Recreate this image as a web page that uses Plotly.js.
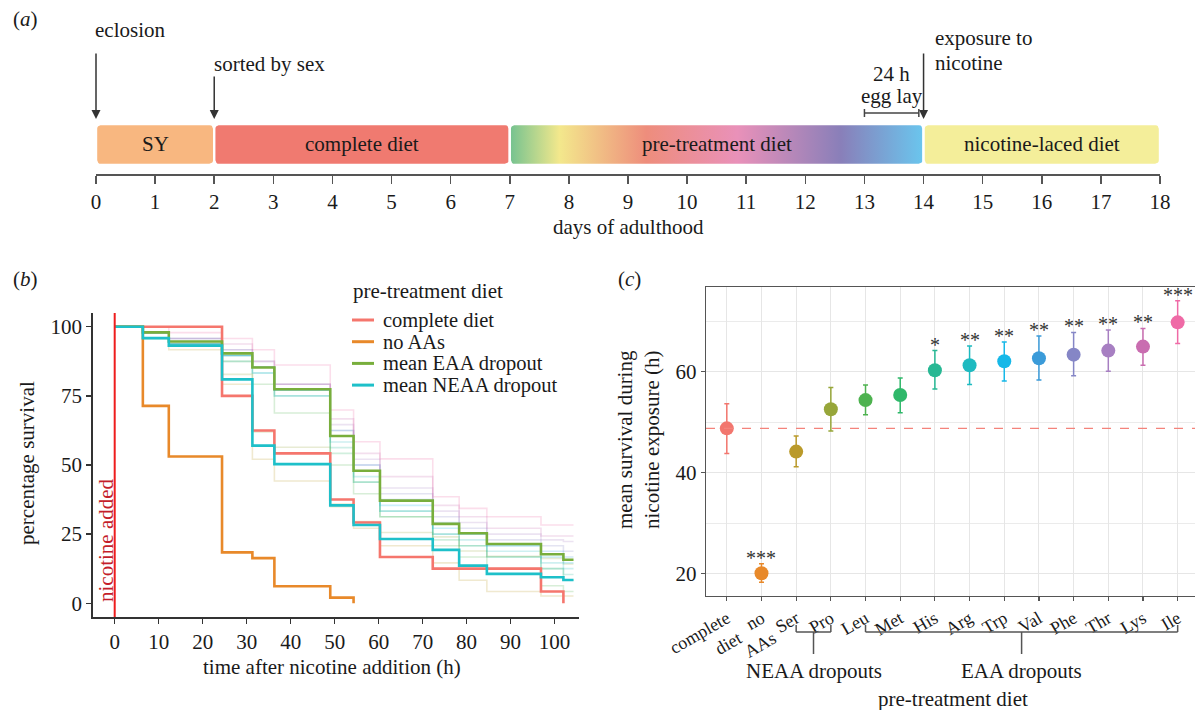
<!DOCTYPE html>
<html><head><meta charset="utf-8">
<script src="https://cdn.plot.ly/plotly-3.0.1.min.js"></script>
<style>html,body{margin:0;padding:0;background:#fff}#chart{width:1195px;height:710px}</style>
</head><body><div id="chart"></div>
<script>
// ---------- Panel (a): timeline ----------
const stageNames = ['SY', 'complete diet', 'pre-treatment diet', 'nicotine-laced diet'];
const stageStart = [0, 2, 7, 14];
const stageEnd = [2, 7, 14, 18];
const eventLabels = ['eclosion', 'sorted by sex', 'exposure to', 'nicotine'];
const eventDays = [0, 2, 14];
const eggLayStart = 13, eggLayEnd = 13.92;

// ---------- Panel (b): survival curves ----------
const hours = [0, 6.4, 12.3, 24.4, 31.3, 36.3, 49, 54.3, 60.3, 72.3, 78.3, 84.6, 96.9, 102, 104.3];
const completeHours = [0, 24.4, 31.3, 36.3, 49, 54.3, 60.3, 72.3, 96.9, 102];
const completeSurv = [100, 75, 62.5, 54.2, 37.5, 29.2, 16.7, 12.5, 4.2, 0];
const noAAHours = [0, 6.4, 12.3, 24.4, 31.3, 36.3, 49, 54.3];
const noAASurv = [100, 71.4, 53.1, 18.4, 16.3, 6.1, 2.0, 0];
const eaaMeanSurv = [100, 98, 94.7, 90.4, 85.3, 77.4, 60.5, 47.9, 37.1, 28.7, 25.3, 21.4, 17.7, 15.7, 15.7];
const neaaMeanSurv = [100, 95.9, 93.2, 81, 57, 50.3, 35.4, 28.3, 23.2, 19.3, 13.6, 10.6, 9.4, 8.4, 8.4];
// individual dropouts (faint lines)
const survSer = [100, 95.8, 91.7, 79.2, 52.1, 44.2, 34.9, 27.1, 20.8, 14.6, 8.3, 4.2, 2.6, 2.6, 2.6];
const survPro = [100, 96, 94.6, 82.8, 62, 56.4, 35.9, 29.5, 25.6, 24, 18.9, 17, 16.2, 14.2, 14.2];
const survLeu = [100, 95.8, 93.8, 87.5, 79.2, 68.8, 50, 39.6, 31.3, 20.8, 16.7, 12.5, 6.3, 4.2, 4.2];
const survMet = [100, 97.9, 93.8, 89.6, 85.4, 77.1, 54.2, 43.8, 31.3, 22.9, 20.8, 16.7, 12.5, 8.3, 8.3];
const survHis = [100, 97.9, 93.8, 87.5, 83.3, 75, 56.3, 43.8, 33.3, 25, 20.8, 16.7, 12.5, 10.4, 10.4];
const survArg = [100, 97.9, 93.8, 89.6, 85.4, 75, 58.3, 45.8, 33.3, 25, 22.9, 18.8, 14.6, 12.5, 12.5];
const survTrp = [100, 97.9, 93.8, 89.6, 83.3, 77.1, 60.4, 47.9, 35.4, 27.1, 25, 20.8, 16.7, 14.6, 14.6];
const survVal = [100, 97.9, 95.8, 89.6, 85.4, 77.1, 62.5, 50, 37.5, 29.2, 25, 20.8, 18.8, 16.7, 16.7];
const survPhe = [100, 97.9, 93.8, 91.7, 87.5, 79.2, 62.5, 50, 39.6, 31.3, 27.1, 22.9, 20.8, 18.8, 18.8];
const survThr = [100, 97.9, 95.8, 91.7, 85.4, 79.2, 64.6, 52.1, 41.7, 33.3, 29.2, 25, 22.9, 22.3, 22.3];
const survLys = [100, 97.9, 95.8, 93.8, 87.5, 79.2, 66.7, 54.2, 45.8, 35.4, 31.3, 27.1, 24.3, 24.3, 24.3];
const survIle = [100, 100, 97.9, 95.8, 91.7, 86.2, 69.9, 58.4, 52.2, 38.5, 34.3, 31.3, 28.3, 28.3, 28.3];

// ---------- Panel (c): mean survival ----------
const dietCats = ['complete<br>diet', 'no<br>AAs', 'Ser', 'Pro', 'Leu', 'Met', 'His', 'Arg', 'Trp', 'Val', 'Phe', 'Thr', 'Lys', 'Ile'];
const meanSurv = [48.8, 20.1, 44.2, 52.6, 54.4, 55.4, 60.3, 61.3, 62.1, 62.7, 63.4, 64.2, 65.0, 69.8];
const ciLow = [43.8, 18.3, 41.2, 48.3, 51.5, 51.9, 56.6, 57.5, 58.2, 58.4, 59.2, 60.1, 61.3, 65.6];
const ciHigh = [53.7, 22.0, 47.3, 56.9, 57.4, 58.8, 64.2, 65.1, 65.9, 67.1, 67.8, 68.3, 68.6, 74.1];
const signif = ['', '***', '', '', '', '', '*', '**', '**', '**', '**', '**', '**', '***'];
const neaaGroup = ['Ser', 'Pro'];
const eaaGroup = ['Leu', 'Ile'];

// ---------- styles ----------
const stageColors = ['#F8B780', '#F07A70', null, '#F4EE9A'];
const pretreatGradient = [[0, '#74C290'], [0.12, '#F3E88C'], [0.33, '#EE8D7C'], [0.55, '#E991B9'], [0.8, '#897FB9'], [1, '#6AC6EE']];
const dietColors = ['#F2766E', '#E8892A', '#BA9A2A', '#97A63A', '#4DB24F', '#2FB86A', '#27B894', '#1EBAC0', '#16B8E8', '#3B9BD9', '#8586C6', '#A77FC2', '#C96DB0', '#EF6AA6'];
const FONT = 'Liberation Serif, Times New Roman, serif';
const FS = 21;
const W = 1195, H = 710;
const PX = v => v / W, PY = v => 1 - v / H;

const traces = [];
const shapes = [];
const ann = [];
function A(o) { ann.push(Object.assign({showarrow: false, xanchor: 'center', yanchor: 'middle', font: {size: FS}}, o)); }

// rounded rectangle outline (in data units of panel a axes)
function roundedRect(x0, x1, y0, y1, rx, ry) {
  const xs = [], ys = [];
  const corners = [[x1 - rx, y0 + ry, -90], [x1 - rx, y1 - ry, 0], [x0 + rx, y1 - ry, 90], [x0 + rx, y0 + ry, 180]];
  corners.forEach(([cx, cy, a0]) => {
    for (let k = 0; k <= 4; k++) {
      const a = (a0 + k * 22.5) * Math.PI / 180;
      xs.push(cx + rx * Math.cos(a)); ys.push(cy + ry * Math.sin(a));
    }
  });
  xs.push(xs[0]); ys.push(ys[0]);
  return [xs, ys];
}

// Panel a bars
stageNames.forEach((nm, i) => {
  const [xs, ys] = roundedRect(stageStart[i], stageEnd[i], 0, 1, 0.075, 0.11);
  const t = {
    x: xs, y: ys, xaxis: 'x', yaxis: 'y', type: 'scatter', mode: 'lines',
    fill: 'toself', line: {color: '#ffffff', width: 2.4}, hoverinfo: 'skip', showlegend: false
  };
  if (stageColors[i]) t.fillcolor = stageColors[i];
  else t.fillgradient = {type: 'horizontal', colorscale: pretreatGradient};
  traces.push(t);
  A({x: (stageStart[i] + stageEnd[i]) / 2, y: 0.5, xref: 'x', yref: 'y', text: nm, font: {size: FS, color: '#1a1a1a'}});
});
// arrows
const arrowTop = [52, 75, 52];
eventDays.forEach((d, i) => {
  ann.push({x: d, y: PY(119), xref: 'x', yref: 'paper', ax: 0, ay: -(119 - arrowTop[i]), text: '',
    showarrow: true, arrowhead: 2, arrowsize: 1.2, arrowwidth: 1.5, arrowcolor: '#333'});
});
A({x: eventDays[0], y: PY(30), xref: 'x', yref: 'paper', xanchor: 'left', xshift: -3, text: eventLabels[0]});
A({x: eventDays[1], y: PY(64), xref: 'x', yref: 'paper', xanchor: 'left', xshift: -2, text: eventLabels[1]});
A({x: eventDays[2], y: PY(38), xref: 'x', yref: 'paper', xanchor: 'left', xshift: 9, text: eventLabels[2]});
A({x: eventDays[2], y: PY(63), xref: 'x', yref: 'paper', xanchor: 'left', xshift: 9, text: eventLabels[3]});
// egg lay bracket
const eggMid = (eggLayStart + eggLayEnd) / 2;
A({x: eggMid, y: PY(74), xref: 'x', yref: 'paper', text: '24 h'});
A({x: eggMid, y: PY(96), xref: 'x', yref: 'paper', text: 'egg lay'});
const bl = {color: '#444', width: 1.5};
shapes.push({type: 'line', xref: 'x', yref: 'paper', x0: eggLayStart, x1: eggLayEnd, y0: PY(113), y1: PY(113), line: bl});
shapes.push({type: 'line', xref: 'x', yref: 'paper', x0: eggLayStart, x1: eggLayStart, y0: PY(109), y1: PY(117), line: bl});
shapes.push({type: 'line', xref: 'x', yref: 'paper', x0: eggLayEnd, x1: eggLayEnd, y0: PY(109), y1: PY(117), line: bl});
A({x: PX(25), y: PY(19), xref: 'paper', yref: 'paper', text: '(<i>a</i>)'});
A({x: 9, y: PY(227), xref: 'x', yref: 'paper', text: 'days of adulthood'});

// Panel b faint lines
const faint = [
  [survSer, 2], [survPro, 3], [survLeu, 4], [survMet, 5], [survHis, 6], [survArg, 7], [survTrp, 8],
  [survVal, 9], [survPhe, 10], [survThr, 11], [survLys, 12], [survIle, 13]
];
faint.forEach(([s, ci]) => {
  traces.push({x: hours, y: s, xaxis: 'x2', yaxis: 'y2', type: 'scatter', mode: 'lines',
    line: {shape: 'hv', color: dietColors[ci], width: 1.6}, opacity: 0.22, hoverinfo: 'skip', showlegend: false});
});
const mainLines = [
  ['complete diet', completeHours, completeSurv, '#F5766D'],
  ['no AAs', noAAHours, noAASurv, '#E8892A'],
  ['mean EAA dropout', hours, eaaMeanSurv, '#78AE3C'],
  ['mean NEAA dropout', hours, neaaMeanSurv, '#1EC0C9']
];
mainLines.forEach(([nm, x, y, c], i) => {
  traces.push({name: nm, x: x, y: y, xaxis: 'x2', yaxis: 'y2', type: 'scatter', mode: 'lines',
    line: {shape: 'hv', color: c, width: 2.6}, hoverinfo: 'skip', showlegend: false});
  // legend entry
  const ly = 320 + i * 21.7;
  shapes.push({type: 'line', xref: 'paper', yref: 'paper', x0: PX(352), x1: PX(374), y0: PY(ly), y1: PY(ly), line: {color: c, width: 3}});
  A({x: PX(381), y: PY(ly), xref: 'paper', yref: 'paper', xanchor: 'left', text: nm, font: {size: 20.5}});
});
A({x: PX(351), y: PY(291), xref: 'paper', yref: 'paper', xanchor: 'left', text: 'pre-treatment diet'});
shapes.push({type: 'line', xref: 'x2', yref: 'y2 domain', x0: 0, x1: 0, y0: 0, y1: 1, line: {color: '#EE1D1D', width: 2}});
A({x: PX(106), y: PY(540), xref: 'paper', yref: 'paper', text: 'nicotine added', textangle: -90, font: {size: FS, color: '#C41E2A'}});
A({x: PX(25), y: PY(279), xref: 'paper', yref: 'paper', text: '(<i>b</i>)'});
A({x: PX(27), y: PY(463), xref: 'paper', yref: 'paper', text: 'percentage survival', textangle: -90});
A({x: PX(332), y: PY(667), xref: 'paper', yref: 'paper', text: 'time after nicotine addition (h)'});

// Panel c points
const idx = dietCats.map((c, i) => i);
dietCats.forEach((c, i) => {
  traces.push({x: [idx[i]], y: [meanSurv[i]], xaxis: 'x3', yaxis: 'y3', type: 'scatter', mode: 'markers',
    marker: {size: 14, color: dietColors[i]},
    error_y: {type: 'data', symmetric: false, array: [ciHigh[i] - meanSurv[i]], arrayminus: [meanSurv[i] - ciLow[i]],
      color: dietColors[i], thickness: 1.5, width: 2.5},
    hoverinfo: 'skip', showlegend: false});
  if (signif[i]) A({x: idx[i], y: ciHigh[i], xref: 'x3', yref: 'y3', yanchor: 'bottom', yshift: -7,
    text: signif[i], font: {size: 20, color: '#333'}});
});
shapes.push({type: 'line', xref: 'x3 domain', yref: 'y3', x0: 0, x1: 1, y0: meanSurv[0], y1: meanSurv[0],
  line: {color: '#F4837B', width: 1.3, dash: 'dash'}});
// group brackets
function bracket(a, b) {
  const xa = dietCats.indexOf(a), xb = dietCats.indexOf(b), m = (xa + xb) / 2;
  const st = {color: '#555', width: 1.5};
  shapes.push({type: 'line', xref: 'x3', yref: 'paper', x0: xa, x1: xb, y0: PY(632), y1: PY(632), line: st});
  shapes.push({type: 'line', xref: 'x3', yref: 'paper', x0: xa, x1: xa, y0: PY(625), y1: PY(632), line: st});
  shapes.push({type: 'line', xref: 'x3', yref: 'paper', x0: xb, x1: xb, y0: PY(625), y1: PY(632), line: st});
  shapes.push({type: 'line', xref: 'x3', yref: 'paper', x0: m, x1: m, y0: PY(632), y1: PY(654), line: st});
  return m;
}
const mN = bracket(neaaGroup[0], neaaGroup[1]);
const mE = bracket(eaaGroup[0], eaaGroup[1]);
A({x: mN, y: PY(671), xref: 'x3', yref: 'paper', text: 'NEAA dropouts'});
A({x: mE, y: PY(671), xref: 'x3', yref: 'paper', text: 'EAA dropouts'});
A({x: PX(953), y: PY(699), xref: 'paper', yref: 'paper', text: 'pre-treatment diet'});
A({x: PX(629), y: PY(279), xref: 'paper', yref: 'paper', text: '(<i>c</i>)'});
A({x: PX(639), y: PY(440), xref: 'paper', yref: 'paper', text: 'mean survival during<br>nicotine exposure (h)', textangle: -90});

const axB = {showline: true, linecolor: '#333', linewidth: 1.5, ticks: 'outside', ticklen: 5, tickwidth: 1.2, tickcolor: '#333',
  showgrid: false, zeroline: false, tickfont: {size: FS, color: '#1a1a1a'}};
const axC = {showline: true, mirror: true, linecolor: '#555', linewidth: 1.2, ticks: 'outside', ticklen: 4, tickwidth: 1.2, tickcolor: '#555',
  showgrid: true, gridcolor: '#E6E6E6', gridwidth: 1, zeroline: false};

const layout = {
  width: W, height: H, margin: {l: 0, r: 0, t: 0, b: 0, autoexpand: false}, paper_bgcolor: '#fff', plot_bgcolor: 'rgba(0,0,0,0)',
  font: {family: FONT, size: FS, color: '#1a1a1a'}, showlegend: false,
  xaxis: {domain: [PX(96), PX(1160)], range: [0, 18], anchor: 'y', showline: true, linecolor: '#555', linewidth: 1.5,
    ticks: 'outside', ticklen: 8, tickwidth: 1.5, tickcolor: '#555', dtick: 1, tick0: 0, showgrid: false, zeroline: false,
    tickfont: {size: FS, color: '#1a1a1a'}},
  yaxis: {domain: [PY(174), PY(118)], range: [-0.22, 1.146], anchor: 'x', visible: false},
  xaxis2: Object.assign({}, axB, {domain: [PX(92.7), PX(578.8)], range: [-5, 105.5], anchor: 'y2', dtick: 10, tick0: 0}),
  yaxis2: Object.assign({}, axB, {domain: [PY(617), PY(313)], range: [-5, 105], anchor: 'x2', tickvals: [0, 25, 50, 75, 100]}),
  xaxis3: Object.assign({}, axC, {domain: [PX(706), 1], range: [-0.6, 13.5], anchor: 'y3', tickvals: idx, ticktext: dietCats,
    tickangle: -30, tickfont: {size: 18, color: '#1a1a1a'}}),
  yaxis3: Object.assign({}, axC, {domain: [PY(596), PY(287)], range: [15.6, 76.8], anchor: 'x3', dtick: 20, tick0: 0,
    tickfont: {size: FS, color: '#1a1a1a'},
    minor: {dtick: 10, tick0: 0, showgrid: true, gridcolor: '#EBEBEB', ticklen: 0}}),
  shapes: shapes, annotations: ann
};
Plotly.newPlot('chart', traces, layout, {displayModeBar: false, staticPlot: true});
</script></body></html>
